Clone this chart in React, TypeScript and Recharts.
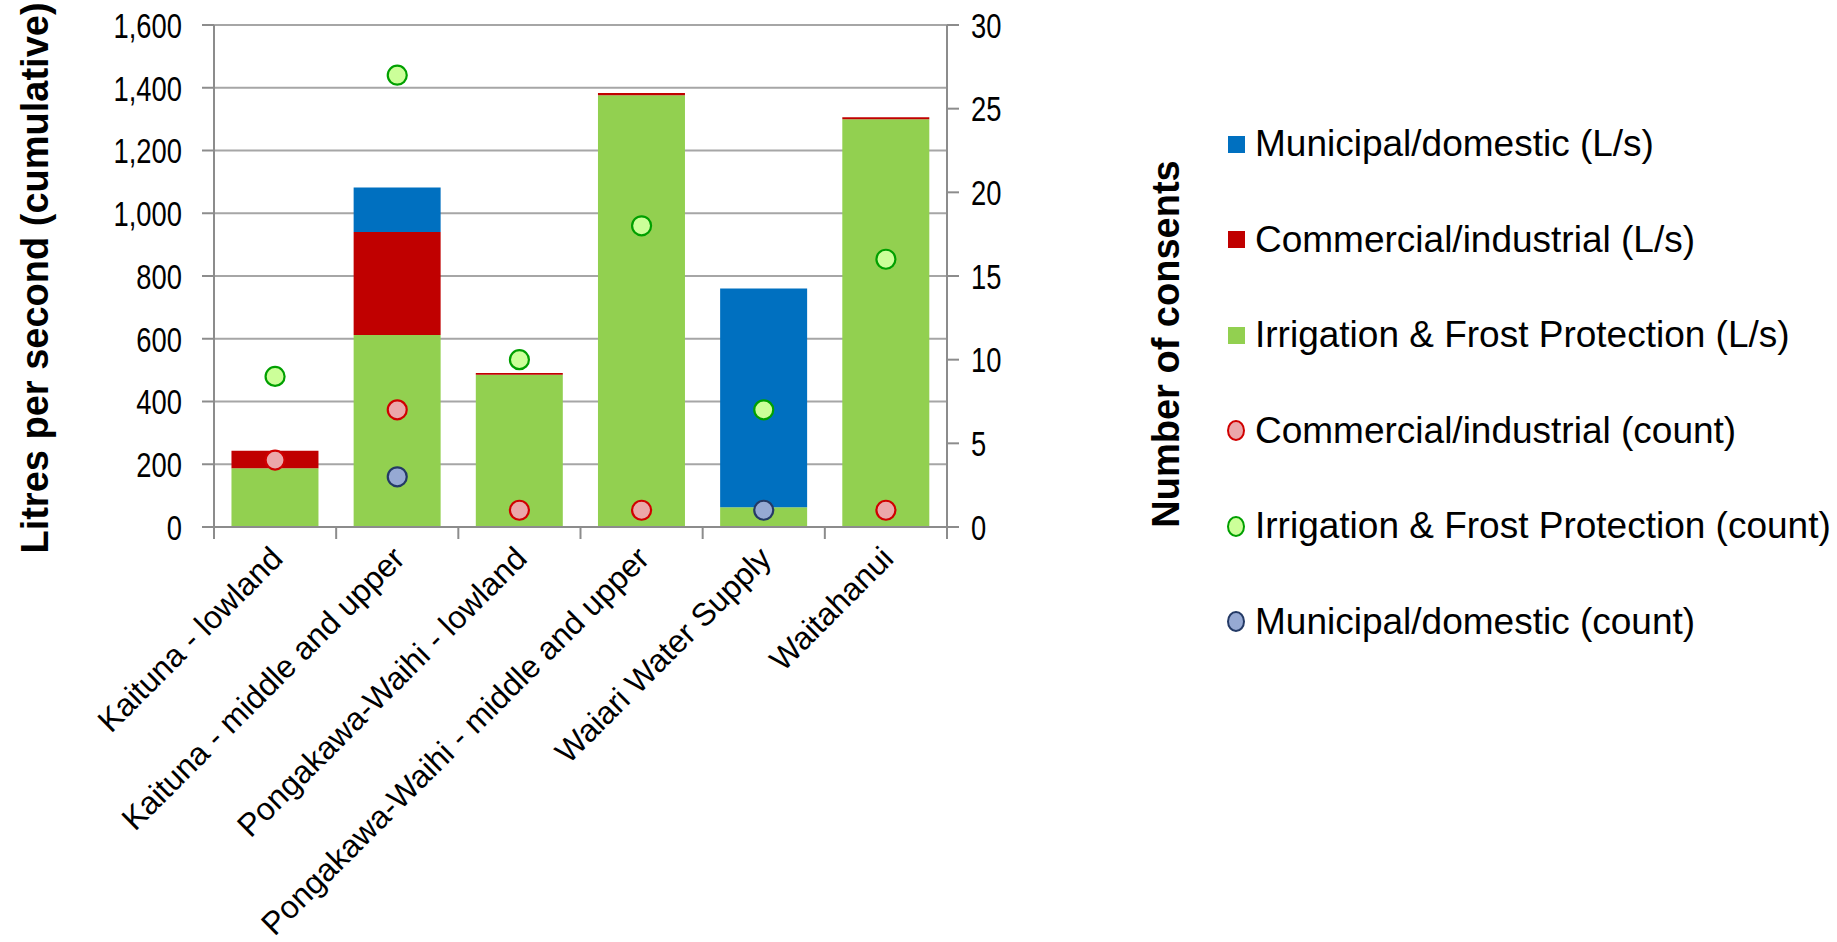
import React from 'react';
import { ComposedChart, Bar, Scatter, XAxis, YAxis, CartesianGrid } from 'recharts';

const categories = [
  'Kaituna - lowland',
  'Kaituna - middle and upper',
  'Pongakawa-Waihi - lowland',
  'Pongakawa-Waihi - middle and upper',
  'Waiari Water Supply',
  'Waitahanui',
];
const irrigationLs = [187, 612, 485, 1376, 63, 1300];
const commercialLs = [56, 328, 6, 7, 0, 6];
const municipalLs = [0, 142, 0, 0, 697, 0];
const commercialCount: (number | null)[] = [4, 7, 1, 1, null, 1];
const irrigationCount: (number | null)[] = [9, 27, 10, 18, 7, 16];
const municipalCount: (number | null)[] = [null, 3, null, null, 1, null];

const leftTicks = [0, 200, 400, 600, 800, 1000, 1200, 1400, 1600];
const rightTicks = [0, 5, 10, 15, 20, 25, 30];

const data = categories.map((name, i) => ({
  name,
  irrigationLs: irrigationLs[i],
  commercialLs: commercialLs[i],
  municipalLs: municipalLs[i],
  commercialCount: commercialCount[i],
  irrigationCount: irrigationCount[i],
  municipalCount: municipalCount[i],
}));

const FONT = '"Liberation Sans", Arial, sans-serif';
const W = 1837;
const H = 942;
const PLOT_LEFT = 214;
const PLOT_RIGHT = 947;
const PLOT_TOP = 25;
const PLOT_BOTTOM = 527;
const RIGHT_AXIS_W = 240;
const BAND = (PLOT_RIGHT - PLOT_LEFT) / categories.length;
const AXIS_COLOR = '#8c8c8c';
const GRID_COLOR = '#a6a6a6';

const COLORS = {
  municipal: '#0070C0',
  commercial: '#C00000',
  irrigation: '#92D050',
};

const legendItems = [
  { label: 'Municipal/domestic (L/s)', type: 'square', fill: COLORS.municipal, stroke: COLORS.municipal },
  { label: 'Commercial/industrial (L/s)', type: 'square', fill: COLORS.commercial, stroke: COLORS.commercial },
  { label: 'Irrigation & Frost Protection (L/s)', type: 'square', fill: COLORS.irrigation, stroke: COLORS.irrigation },
  { label: 'Commercial/industrial (count)', type: 'circle', fill: '#EBA7AA', stroke: '#D00000' },
  { label: 'Irrigation & Frost Protection (count)', type: 'circle', fill: '#CCFF99', stroke: '#00A000' },
  { label: 'Municipal/domestic (count)', type: 'circle', fill: '#96A9D3', stroke: '#243A66' },
];

const makeDot = (key: string, fill: string, stroke: string) => (props: any) => {
  const { cx, cy, payload } = props;
  if (payload == null || payload[key] == null || cx == null || cy == null) return <g />;
  return <circle cx={cx} cy={cy} r={9.5} fill={fill} stroke={stroke} strokeWidth={2.2} />;
};

const YTick = (props: any) => {
  const { x, y, payload, textAnchor } = props;
  const v = typeof payload.value === 'number' ? payload.value.toLocaleString('en-US') : payload.value;
  return (
    <text
      transform={`translate(${x} ${y}) scale(0.76 1)`}
      textAnchor={textAnchor}
      dy="0.355em"
      fontFamily={FONT}
      fontSize={36}
      fill="#000"
    >
      {v}
    </text>
  );
};

const XTick = (props: any) => {
  const { x, y, payload, index } = props;
  const half = BAND / 2;
  const tx = x - 7;
  const ty = y + 17;
  return (
    <g>
      <line x1={x - half} x2={x - half} y1={y} y2={y + 12} stroke={AXIS_COLOR} strokeWidth={2} />
      {index === categories.length - 1 && (
        <line x1={x + half} x2={x + half} y1={y} y2={y + 12} stroke={AXIS_COLOR} strokeWidth={2} />
      )}
      <text
        x={tx}
        y={ty}
        transform={`rotate(-45 ${tx} ${ty})`}
        textAnchor="end"
        dominantBaseline="hanging"
        fontFamily={FONT}
        fontSize={32}
        fill="#000"
      >
        {payload.value}
      </text>
    </g>
  );
};

const LeftLabel = (props: any) => {
  const { viewBox } = props;
  const x = viewBox.x + 35;
  const y = viewBox.y + viewBox.height / 2 + 2;
  return (
    <text
      x={x}
      y={y}
      transform={`rotate(-90 ${x} ${y})`}
      textAnchor="middle"
      dominantBaseline="central"
      fontFamily={FONT}
      fontWeight="bold"
      fontSize={38}
      fill="#000"
    >
      Litres per second (cumulative)
    </text>
  );
};

const RightLabel = (props: any) => {
  const { viewBox } = props;
  const x = viewBox.x + 219;
  const y = 344;
  return (
    <text
      x={x}
      y={y}
      transform={`rotate(-90 ${x} ${y})`}
      textAnchor="middle"
      dominantBaseline="central"
      fontFamily={FONT}
      fontWeight="bold"
      fontSize={38}
      fill="#000"
    >
      Number of consents
    </text>
  );
};

const Legend = () => (
  <div style={{ position: 'absolute', left: 1226, top: 120, fontFamily: FONT }}>
    {legendItems.map((it) => (
      <div
        key={it.label}
        style={{ height: 95.6, display: 'flex', alignItems: 'flex-start', whiteSpace: 'nowrap' }}
      >
        <div style={{ width: 20, height: 48, display: 'flex', alignItems: 'center', justifyContent: 'center' }}>
          {it.type === 'square' ? (
            <div style={{ width: 17, height: 17, background: it.fill }} />
          ) : (
            <div
              style={{
                width: 14,
                height: 17,
                borderRadius: '50%',
                background: it.fill,
                border: `2px solid ${it.stroke}`,
              }}
            />
          )}
        </div>
        <span style={{ fontSize: 37, lineHeight: '48px', marginLeft: 9, color: '#000' }}>{it.label}</span>
      </div>
    ))}
  </div>
);

export default function App() {
  return (
    <div style={{ position: 'absolute', left: 0, top: 0, width: W, height: H, background: '#fff' }}>
      <ComposedChart
        width={W}
        height={H}
        data={data}
        margin={{ top: PLOT_TOP, left: 0, right: W - PLOT_RIGHT - RIGHT_AXIS_W, bottom: 0 }}
        barCategoryGap="14.3%"
      >
        <CartesianGrid vertical={false} stroke={GRID_COLOR} strokeWidth={2} yAxisId="left" />
        <XAxis
          dataKey="name"
          height={H - PLOT_BOTTOM}
          interval={0}
          tick={<XTick />}
          tickLine={false}
          tickSize={0}
          tickMargin={0}
          axisLine={{ stroke: AXIS_COLOR, strokeWidth: 2 }}
        />
        <YAxis
          yAxisId="left"
          width={PLOT_LEFT}
          domain={[0, 1600]}
          ticks={leftTicks}
          interval={0}
          tick={<YTick />}
          tickSize={12}
          tickMargin={20}
          tickLine={{ stroke: AXIS_COLOR, strokeWidth: 2 }}
          axisLine={{ stroke: AXIS_COLOR, strokeWidth: 2 }}
          label={<LeftLabel />}
        />
        <YAxis
          yAxisId="right"
          orientation="right"
          width={RIGHT_AXIS_W}
          domain={[0, 30]}
          ticks={rightTicks}
          interval={0}
          tick={<YTick />}
          tickSize={12}
          tickMargin={12}
          tickLine={{ stroke: AXIS_COLOR, strokeWidth: 2 }}
          axisLine={{ stroke: AXIS_COLOR, strokeWidth: 2 }}
          label={<RightLabel />}
        />
        <Bar yAxisId="left" dataKey="irrigationLs" stackId="a" fill={COLORS.irrigation} isAnimationActive={false} />
        <Bar yAxisId="left" dataKey="commercialLs" stackId="a" fill={COLORS.commercial} isAnimationActive={false} />
        <Bar yAxisId="left" dataKey="municipalLs" stackId="a" fill={COLORS.municipal} isAnimationActive={false} />
        <Scatter
          yAxisId="right"
          dataKey="commercialCount"
          isAnimationActive={false}
          shape={makeDot('commercialCount', '#EBA7AA', '#D00000')}
        />
        <Scatter
          yAxisId="right"
          dataKey="irrigationCount"
          isAnimationActive={false}
          shape={makeDot('irrigationCount', '#CCFF99', '#00A000')}
        />
        <Scatter
          yAxisId="right"
          dataKey="municipalCount"
          isAnimationActive={false}
          shape={makeDot('municipalCount', '#96A9D3', '#243A66')}
        />
      </ComposedChart>
      <Legend />
    </div>
  );
}
